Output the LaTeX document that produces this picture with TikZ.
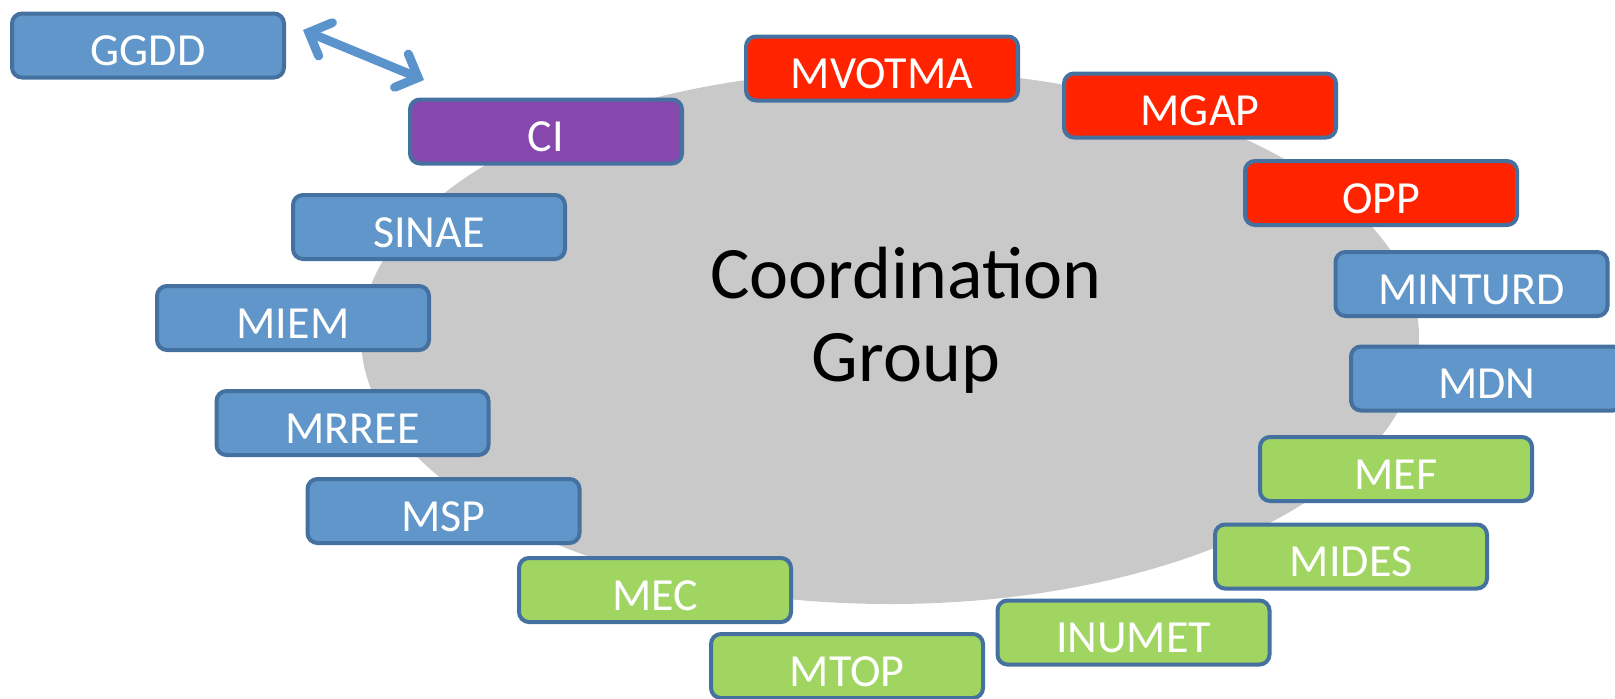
\documentclass[tikz,border=0pt]{standalone}
\usepackage{fontspec}
\setmainfont{Carlito}
\usetikzlibrary{arrows.meta}
\definecolor{bfill}{RGB}{96,150,201}
\definecolor{bline}{RGB}{69,113,160}
\definecolor{rfill}{RGB}{255,35,0}
\definecolor{gfill}{RGB}{161,213,98}
\definecolor{pfill}{RGB}{134,72,173}
\definecolor{ellgray}{RGB}{201,201,201}
\definecolor{arrowblue}{RGB}{91,147,204}
\tikzset{
  box/.style={draw=bline, line width=2pt, rounded corners=5pt,
    minimum width=136pt, minimum height=32pt, inner sep=0pt,
    text=white, font=\fontsize{23}{26}\selectfont,
    text height=20pt, text depth=0pt},
  bluebox/.style={box, fill=bfill},
  redbox/.style={box, fill=rfill},
  greenbox/.style={box, fill=gfill},
  purplebox/.style={box, fill=pfill},
  link/.style={draw=arrowblue, line width=4.5pt, line cap=round,
    {Straight Barb[length=9pt,width=18pt,line cap=round]}-{Straight Barb[length=9pt,width=18pt,line cap=round]}}
}
\begin{document}
\begin{tikzpicture}[x=0.5pt,y=-0.5pt]
\useasboundingbox (0,0) rectangle (1615,698);
\fill[ellgray] (890,337) ellipse [x radius=529, y radius=267];
\node[align=center, font=\fontsize{37}{41.5}\selectfont, inner sep=0pt] (cg) at (906,320) {Coordination\\Group};
\node[bluebox] (ggdd) at (148,45.5) {GGDD};
\node[purplebox] (ci) at (546,131.5) {CI};
\node[redbox] (mvotma) at (882,68.5) {MVOTMA};
\node[redbox] (mgap) at (1200,105.5) {MGAP};
\node[redbox] (opp) at (1381,193) {OPP};
\node[bluebox] (minturd) at (1471.5,284) {MINTURD};
\node[bluebox] (mdn) at (1487,378.5) {MDN};
\node[greenbox] (mef) at (1396,469) {MEF};
\node[greenbox] (mides) at (1351,556.5) {MIDES};
\node[greenbox] (inumet) at (1133.5,632.5) {INUMET};
\node[greenbox] (mtop) at (847,666) {MTOP};
\node[greenbox] (mec) at (655,590) {MEC};
\node[bluebox] (msp) at (443.5,511) {MSP};
\node[bluebox] (mrree) at (352.5,423) {MRREE};
\node[bluebox] (miem) at (293,318) {MIEM};
\node[bluebox] (sinae) at (429,227) {SINAE};
\coordinate (ga) at (303,30);
\coordinate (ca) at (424,80);
\draw[link] (ga) -- (ca);
\end{tikzpicture}
\end{document}
